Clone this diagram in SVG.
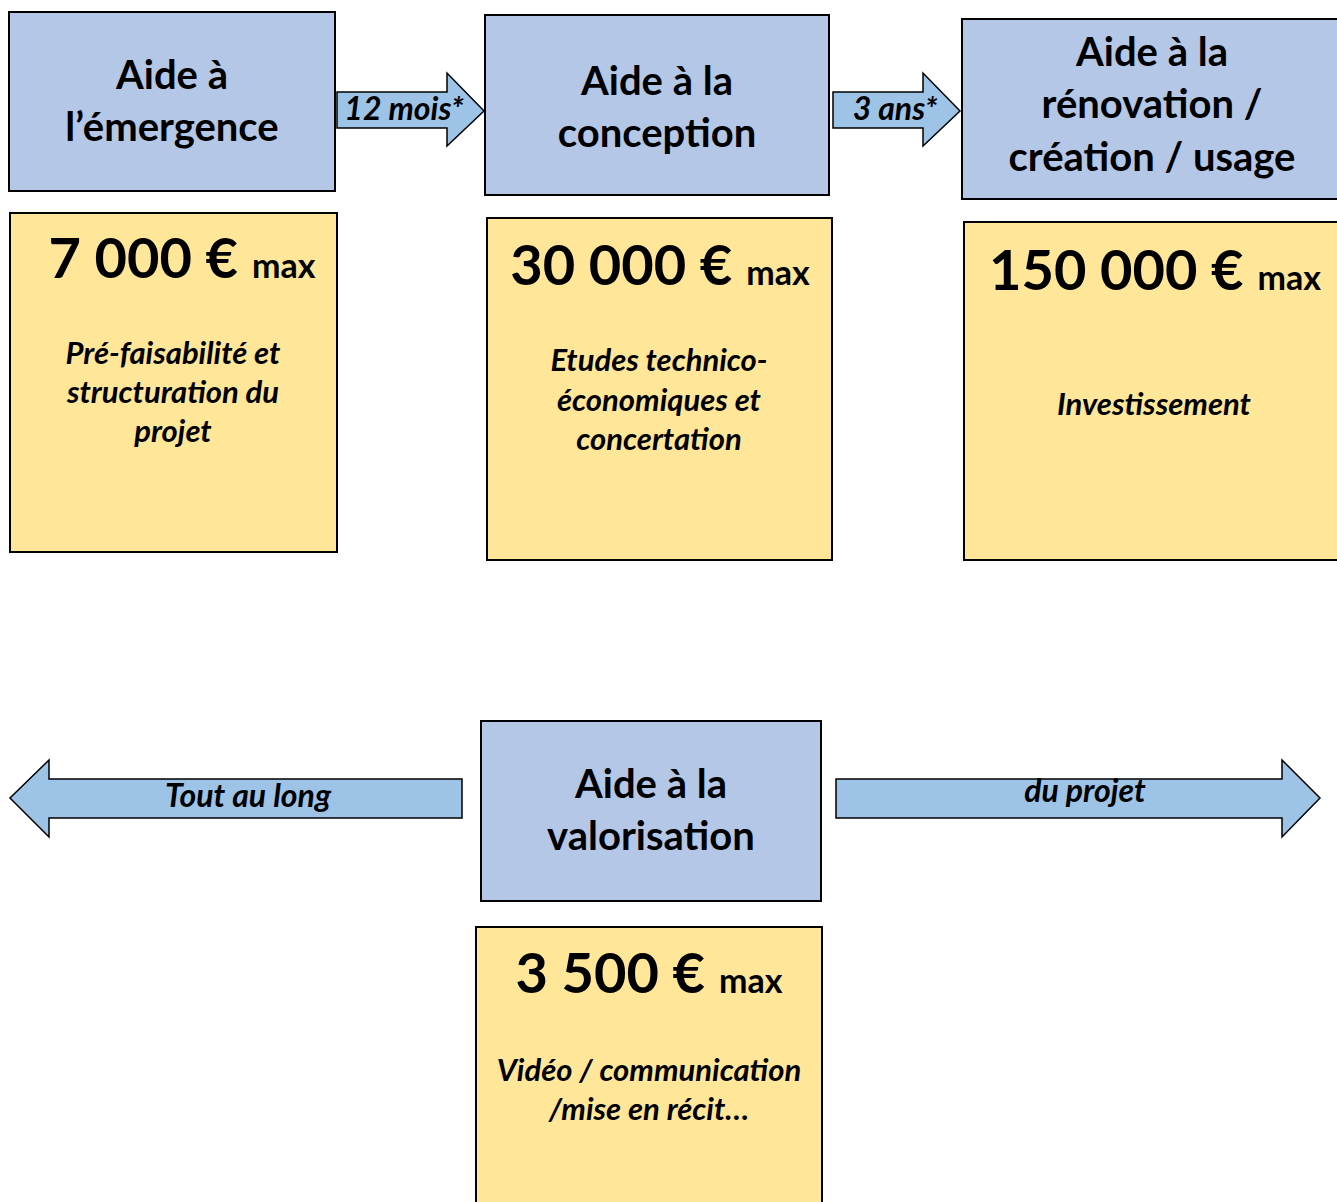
<svg xmlns="http://www.w3.org/2000/svg" width="1337" height="1202" viewBox="0 0 1337 1202">
<style>
.stage{fill:#B4C7E7;stroke:#000;stroke-width:2}
.info{fill:#FFE699;stroke:#000;stroke-width:2}
.arr{fill:#9DC3E6;stroke:#000;stroke-width:1.5;stroke-linejoin:miter}
text{font-family:Lato,"Open Sans","Liberation Sans",sans-serif;fill:#000;text-anchor:middle}
.t{font-size:40px;font-weight:700}
.amt{font-size:56px;font-weight:700}
.max{font-size:34px;font-weight:700}
.d{font-size:31px;font-weight:700;font-style:italic}
.al{font-size:32px;font-weight:700;font-style:italic}
</style>
<rect width="1337" height="1202" fill="#fff"/>
<g id="connectors">
<polygon class="arr" points="337,92 447,92 447,73 484,111 447,146 447,128 337,128"/>
<text class="al" x="404" y="120">12 mois*</text>
<polygon class="arr" points="833,92 923,92 923,73 960,111 923,146 923,128 833,128"/>
<text class="al" x="895" y="120">3 ans*</text>
<polygon class="arr" points="462,779 49,779 49,760 10,798 49,837 49,818 462,818"/>
<text class="al" x="248" y="807">Tout au long</text>
<polygon class="arr" points="836,779 1282,779 1282,760 1320,798 1282,837 1282,818 836,818"/>
<text class="al" x="1085" y="802">du projet</text>
</g>
<g id="emergence">
<rect class="stage" x="9" y="12" width="326" height="179"/>
<text class="t" x="172" y="89">Aide à</text>
<text class="t" x="172" y="141">l’émergence</text>
</g>
<g id="emergence-info">
<rect class="info" x="10" y="213" width="327" height="339"/>
<text x="182" y="278"><tspan class="amt">7 000 €</tspan><tspan class="max" dx="14">max</tspan></text>
<text class="d" x="173" y="364">Pré-faisabilité et</text>
<text class="d" x="173" y="403">structuration du</text>
<text class="d" x="173" y="442">projet</text>
</g>
<g id="conception">
<rect class="stage" x="485" y="15" width="344" height="180"/>
<text class="t" x="657" y="95">Aide à la</text>
<text class="t" x="657" y="147">conception</text>
</g>
<g id="conception-info">
<rect class="info" x="487" y="218" width="345" height="342"/>
<text x="660" y="285"><tspan class="amt">30 000 €</tspan><tspan class="max" dx="14">max</tspan></text>
<text class="d" x="659" y="371">Etudes technico-</text>
<text class="d" x="659" y="411">économiques et</text>
<text class="d" x="659" y="450">concertation</text>
</g>
<g id="renovation">
<rect class="stage" x="962" y="19" width="380" height="180"/>
<text class="t" x="1152" y="66">Aide à la</text>
<text class="t" x="1152" y="118">rénovation /</text>
<text class="t" x="1152" y="171">création / usage</text>
</g>
<g id="renovation-info">
<rect class="info" x="964" y="222" width="380" height="338"/>
<text x="1155" y="290"><tspan class="amt">150 000 €</tspan><tspan class="max" dx="14">max</tspan></text>
<text class="d" x="1154" y="415">Investissement</text>
</g>
<g id="valorisation">
<rect class="stage" x="481" y="721" width="340" height="180"/>
<text class="t" x="651" y="798">Aide à la</text>
<text class="t" x="651" y="850">valorisation</text>
</g>
<g id="valorisation-info">
<rect class="info" x="476" y="927" width="346" height="290"/>
<text x="649" y="993"><tspan class="amt">3 500 €</tspan><tspan class="max" dx="14">max</tspan></text>
<text class="d" x="649" y="1081">Vidéo / communication</text>
<text class="d" x="649" y="1120">/mise en récit…</text>
</g>
</svg>
